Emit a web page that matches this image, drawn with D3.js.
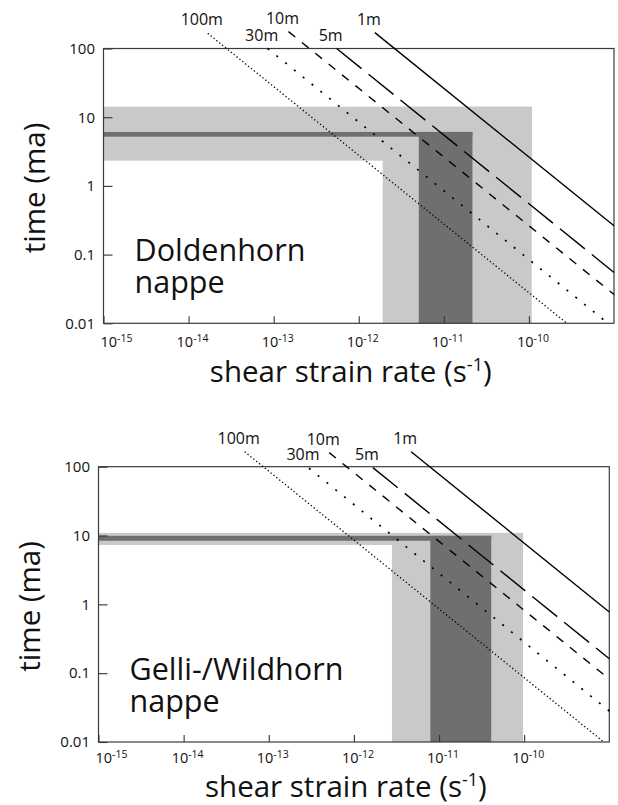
<!DOCTYPE html>
<html><head><meta charset="utf-8">
<script src="https://cdn.jsdelivr.net/npm/d3@7"></script>
<style>
html,body{margin:0;padding:0;background:#fff;}
svg{display:block;font-family:"Open Sans",sans-serif;}
</style></head><body>
<svg id="chart" width="618" height="805"></svg>
<script>
// ---------------- data ----------------
const thicknessLabels = ["1m", "5m", "10m", "30m", "100m"];
// strain-rate (s^-1) at which each line crosses t = 1 Ma
const doldenhornRateAt1Ma = [2.63e-10, 5.5e-11, 2.63e-11, 8.5e-12, 2.79e-12];
const doldenhornStartTime = [170, 100, 176, 100, 166];
const gelliRateAt1Ma = [7.76e-10, 1.62e-10, 8.2e-11, 2.82e-11, 8.6e-12];
const gelliStartTime = [165, 97, 160, 95, 165];

const doldenhornLightTime = [2.33, 14.2];
const doldenhornLightRate = [1.91e-12, 1.08e-10];
const doldenhornDarkTime = [5.2, 6.1];
const doldenhornDarkRate = [5.08e-12, 2.17e-11];

const gelliLightTime = [7.3, 10.9];
const gelliLightRate = [2.8e-12, 9.7e-11];
const gelliDarkTime = [8.4, 9.9];
const gelliDarkRate = [7.9e-12, 4.1e-11];

const xDomain = [1e-15, 1e-9];
const yDomain = [0.01, 100];
const xTickValues = [1e-15, 1e-14, 1e-13, 1e-12, 1e-11, 1e-10];
const xTickExponents = ["-15", "-14", "-13", "-12", "-11", "-10"];
const yTickValues = [100, 10, 1, 0.1, 0.01];
const yTickLabels = ["100", "10", "1", "0.1", "0.01"];

const doldenhornName = ["Doldenhorn", "nappe"];
const gelliName = ["Gelli-/Wildhorn", "nappe"];
const xTitle = ["shear strain rate (s", "-1", ")"];
const yTitle = "time (ma)";

// ---------------- styles ----------------
const lineStyles = [
  {dash: null, w: 1.4},
  {dash: "32,9", w: 1.4},
  {dash: "8.6,8.6", w: 1.4},
  {dash: "2,9.3", w: 1.7},
  {dash: "1.3,2.4", w: 1.3}
];
const LIGHT = "#c9c9c9", DARK = "#6f6f6f", INK = "#111";

const svg = d3.select("#chart");

function drawPanel(cfg) {
  const {left, right, top, bottom, titleGap, tickGap} = cfg;
  const x = d3.scaleLog().domain(xDomain).range([left, right]);
  const y = d3.scaleLog().domain(yDomain).range([bottom, top]);
  const g = svg.append("g");

  // bands (L-shapes)
  const bands = g.append("g");
  const rect = (x0, x1, t0, t1, fill) => bands.append("rect")
    .attr("x", x(x0)).attr("width", x(x1) - x(x0))
    .attr("y", y(t1)).attr("height", y(t0) - y(t1))
    .attr("fill", fill);
  rect(xDomain[0], cfg.lightRate[1], cfg.lightTime[0], cfg.lightTime[1], LIGHT);
  rect(cfg.lightRate[0], cfg.lightRate[1], yDomain[0], cfg.lightTime[1], LIGHT);
  rect(xDomain[0], cfg.darkRate[1], cfg.darkTime[0], cfg.darkTime[1], DARK);
  rect(cfg.darkRate[0], cfg.darkRate[1], yDomain[0], cfg.darkTime[1], DARK);

  // axes ticks (inward)
  const gx = g.append("g").attr("transform", `translate(0,${bottom})`)
    .call(d3.axisBottom(x).tickValues(xTickValues).tickSize(-7).tickFormat(""));
  gx.select(".domain").remove();
  gx.selectAll(".tick line").attr("stroke", "#333").attr("stroke-width", 1.1);

  const gy = g.append("g").attr("transform", `translate(${left},0)`)
    .call(d3.axisLeft(y).tickValues(yTickValues).tickSize(-9).tickPadding(8.5)
      .tickFormat((d, i) => yTickLabels[i]));
  gy.select(".domain").remove();
  gy.selectAll(".tick line").attr("stroke", "#333").attr("stroke-width", 1.1);
  gy.selectAll(".tick text").attr("font-size", 15).attr("font-family", '"Open Sans",sans-serif')
    .attr("fill", INK);

  // x tick labels with superscripts
  xTickValues.forEach((v, i) => {
    const t = g.append("text")
      .attr("x", x(v) + (i === 0 ? 13 : 4)).attr("y", bottom + tickGap)
      .attr("text-anchor", "middle").attr("fill", INK);
    t.append("tspan").attr("font-size", 14.5).text("10");
    t.append("tspan").attr("font-size", 10.5).attr("dy", -5).text(xTickExponents[i]);
  });

  // frame
  g.append("rect").attr("x", left).attr("y", top)
    .attr("width", right - left).attr("height", bottom - top)
    .attr("fill", "none").attr("stroke", "#3a3a3a").attr("stroke-width", 1.2);

  // thickness lines
  const line = d3.line().x(d => x(d[0])).y(d => y(d[1]));
  thicknessLabels.forEach((lab, i) => {
    const r = cfg.rate[i];
    const t0 = cfg.start[i];
    const p0 = [r / t0, t0];
    const endRate = Math.min(xDomain[1], r / yDomain[0]);
    const p1 = [endRate, r / endRate];
    const st = lineStyles[i];
    const path = g.append("path").attr("d", line([p0, p1]))
      .attr("fill", "none").attr("stroke", "#000").attr("stroke-width", st.w);
    if (st.dash) path.attr("stroke-dasharray", st.dash);
    g.append("text").attr("x", x(p0[0]) - 6).attr("y", y(p0[1]) - 8)
      .attr("text-anchor", "middle").attr("font-size", 16).attr("fill", INK).text(lab);
  });

  // panel name
  cfg.name.forEach((s, i) => {
    g.append("text").attr("x", left + 31).attr("y", bottom - 62 + i * 32)
      .attr("font-size", 30.5).attr("fill", INK).text(s);
  });

  // x title
  const xt = g.append("text").attr("x", (left + right) / 2 - 8).attr("y", bottom + titleGap)
    .attr("text-anchor", "middle").attr("font-size", 29.5).attr("fill", INK);
  xt.append("tspan").text(xTitle[0]);
  xt.append("tspan").attr("font-size", 18).attr("dy", -11).text(xTitle[1]);
  xt.append("tspan").attr("dy", 11).text(xTitle[2]);

  // y title
  g.append("text")
    .attr("transform", `translate(${left - 59},${(top + bottom) / 2 + 2}) rotate(-90)`)
    .attr("text-anchor", "middle").attr("font-size", 29.5).attr("fill", INK).text(yTitle);
}

drawPanel({
  left: 103.5, right: 614, top: 48.5, bottom: 323.3, titleGap: 59, tickGap: 24,
  rate: doldenhornRateAt1Ma, start: doldenhornStartTime,
  lightTime: doldenhornLightTime, lightRate: doldenhornLightRate,
  darkTime: doldenhornDarkTime, darkRate: doldenhornDarkRate,
  name: doldenhornName
});
drawPanel({
  left: 98.5, right: 609.3, top: 466.7, bottom: 742, titleGap: 55, tickGap: 21,
  rate: gelliRateAt1Ma, start: gelliStartTime,
  lightTime: gelliLightTime, lightRate: gelliLightRate,
  darkTime: gelliDarkTime, darkRate: gelliDarkRate,
  name: gelliName
});
</script>
</body></html>
